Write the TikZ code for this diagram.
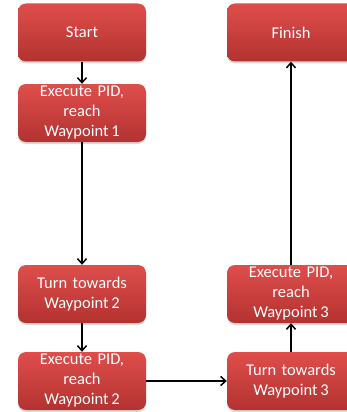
\documentclass[tikz,border=0pt]{standalone}
\usepackage{fontspec}
\setmainfont{Carlito}
\usetikzlibrary{arrows.meta,shadows}
\definecolor{boxtop}{HTML}{DE4E4B}
\definecolor{boxbot}{HTML}{B33230}
\tikzset{
	stepbox/.style={rounded corners=8pt, top color=boxtop, bottom color=boxbot, draw=none,
		minimum width=128pt, minimum height=58pt, text width=120pt, align=center,
		text=white, font=\fontsize{16.5}{20}\selectfont, inner sep=0pt,
		drop shadow={opacity=0.3, shadow xshift=0pt, shadow yshift=-2pt}},
}
\begin{document}
\begin{tikzpicture}[x=1pt,y=-1pt,>={Straight Barb[length=5pt,width=9pt]}]
		\useasboundingbox (0,0) rectangle (347,412);
		\node[stepbox] (start) at (82,32.5) {Start};
		\node[stepbox] (pid1) at (82,113) {Execute PID,\\reach\\Waypoint\,1};
		\node[stepbox] (turn2) at (82,294) {Turn towards\\Waypoint\,2};
		\node[stepbox] (pid2) at (82,381) {Execute PID,\\reach\\Waypoint\,2};
		\node[stepbox] (turn3) at (291,381) {Turn towards\\Waypoint\,3};
		\node[stepbox] (pid3) at (291,294) {Execute PID,\\reach\\Waypoint\,3};
		\node[stepbox] (finish) at (291,32.5) {Finish};
		\draw[->,line width=1.5pt] (start) -- (pid1);
		\draw[->,line width=1.5pt] (pid1) -- (turn2);
		\draw[->,line width=1.5pt] (turn2) -- (pid2);
		\draw[->,line width=1.5pt] (pid2) -- (turn3);
		\draw[->,line width=1.5pt] (turn3) -- (pid3);
		\draw[->,line width=1.5pt] (pid3) -- (finish);
	\end{tikzpicture}
\end{document}
